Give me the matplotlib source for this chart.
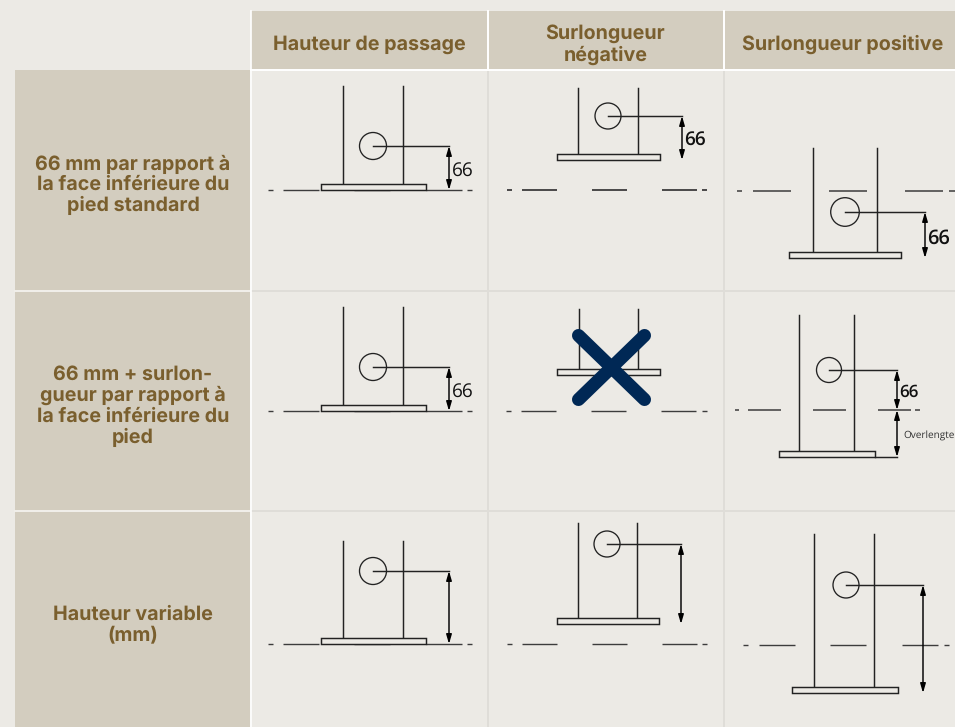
import matplotlib
matplotlib.use('Agg')
import matplotlib.pyplot as plt
from matplotlib.patches import Circle, Rectangle

plt.rcParams['text.hinting'] = 'no_hinting'
plt.rcParams['text.hinting_factor'] = 1

BG = '#ECEAE5'
HEAD = '#D3CDBF'
BROWN = '#7A5F2E'

col_titles = ['Hauteur de passage', 'Surlongueur\nnégative', 'Surlongueur positive']
row_titles = ['66 mm par rapport à\nla face inférieure du\npied standard',
	'66 mm + surlon-\ngueur par rapport à\nla face inférieure du\npied',
	'Hauteur variable\n(mm)']
col_edges = [(251, 487), (489, 723), (725, 955)]
col_text_x = [369.5, 605.5, 842.5]
row_edges = [(70, 290), (292, 510), (512, 727)]

# one entry per drawing, row by row
post_left = [343, 578, 813, 343, 579, 799, 343, 578, 814]
post_right = [403, 638, 877, 403, 638, 854, 403, 637, 874]
post_top = [86, 88, 148, 307, 309, 315, 541, 523, 534]
plate_left = [321, 557, 789, 321, 557, 779, 321, 557, 792]
plate_right = [426, 660, 901, 426, 660, 875, 426, 659, 898]
plate_top = [184, 154, 252, 405, 369, 451, 638, 618, 687]
plate_h = [6, 6, 6, 6, 6, 6, 6, 6, 6]
circle_x = [373, 608, 845, 373, None, 829, 373, 607, 846]
circle_y = [146, 116, 212, 367, None, 370, 571, 544, 585]
circle_r = [13.5, 13, 14.3, 13.5, None, 12.5, 13.5, 13, 13]
dim_x = [449, 682, 925, 449, None, 897, 449, 681, 923]
dim_label = ['66', '66', '66', '66', None, '66', None, None, None]
label_y = [171, 140, 238.5, 392, None, 392.5, None, None, None]
label_size = [14, 14, 14.5, 14, None, 12.5, None, None, None]
label_w = ['normal', 'semibold', 'semibold', 'normal', None, 'semibold', None, None, None]

datum_y = [190, 190, 191, 411, 411, 410, 644, 644, 645]
datum_lw = [1.0, 1.3, 1.1, 1.0, 1.0, 1.1, 1.0, 1.0, 1.0]
datum_segs = [
	[(268, 273), (283, 319), (354, 390), (426, 462), (467, 472)],
	[(507, 512), (522, 557), (592, 627), (662, 697), (702, 707)],
	[(737, 742), (753, 791), (829, 867), (905, 943), (949, 955)],
	[(268, 273), (283, 319), (354, 390), (426, 462), (467, 472)],
	[(506, 511), (521, 556), (591, 626), (661, 696), (702, 707)],
	[(735, 739), (748, 781), (813, 846), (878, 911), (915, 920)],
	[(268, 273), (283, 319), (354, 390), (426, 462), (467, 472)],
	[(507, 512), (522, 557), (592, 627), (662, 697), (702, 707)],
	[(743, 748), (759, 795), (830, 866), (902, 938), (944, 949)],
]

ARROW = dict(arrowstyle='<|-|>,head_length=0.55,head_width=0.16', color='black', lw=1.05,
	shrinkA=0, shrinkB=0, mutation_scale=10)

fig = plt.figure(figsize=(9.55, 7.27), dpi=100, facecolor=BG)
ax = fig.add_axes([0, 0, 1, 1])
ax.set_xlim(0, 955)
ax.set_ylim(727, 0)
ax.axis('off')

# header cells
for (x0, x1), tx, t in zip(col_edges, col_text_x, col_titles):
	ax.add_patch(Rectangle((x0, 11), x1 - x0, 58, fc=HEAD, ec='none'))
	ax.text(tx, 44.5, t, ha='center', va='center', color=BROWN, family='Inter',
		weight='bold', fontsize=14.2, linespacing=1.13)
for (y0, y1), t in zip(row_edges, row_titles):
	ax.add_patch(Rectangle((15, y0), 235, y1 - y0, fc=HEAD, ec='none'))
	ax.text(133, (y0 + y1) / 2 + 5, t, ha='center', va='center', color=BROWN, family='Inter',
		weight='bold', fontsize=14.2, linespacing=1.13)

# body grid
for x in [488, 724]:
	ax.plot([x, x], [70, 727], color='#DFDDD8', lw=1.4)
	ax.plot([x, x], [11, 69], color='white', lw=1.4)
for y in [291, 511]:
	ax.plot([251, 955], [y, y], color='#DFDDD8', lw=1.4)
	ax.plot([15, 250], [y, y], color='#F1EFEA', lw=1.4)
ax.plot([251, 955], [69.5, 69.5], color='white', lw=1.4)
ax.plot([250.5, 250.5], [11, 727], color='white', lw=1.2)

for i in range(9):
	y = datum_y[i]
	for a, b in datum_segs[i]:
		ax.plot([a, b], [y, y], color='#3c3c3c', lw=datum_lw[i], solid_capstyle='butt', zorder=2)
	ax.plot([post_left[i]] * 2, [post_top[i], plate_top[i]], color='#222222', lw=1.05, zorder=3)
	ax.plot([post_right[i]] * 2, [post_top[i], plate_top[i]], color='#222222', lw=1.05, zorder=3)
	ax.add_patch(Rectangle((plate_left[i], plate_top[i]), plate_right[i] - plate_left[i], plate_h[i],
		fc=BG, ec='#222222', lw=1.05, zorder=3))
	if circle_x[i] is None:
		continue
	cx, cy = circle_x[i], circle_y[i]
	ax.add_patch(Circle((cx, cy), circle_r[i], fill=False, ec='#222222', lw=0.95, zorder=4))
	ax.plot([cx, dim_x[i]], [cy, cy], color='#222222', lw=1.05, zorder=4)
	# dimension stops on the plate underside, or on the datum for the overlength case
	stop = plate_top[i] + plate_h[i]
	if i == 5:
		stop = datum_y[i]
	ax.annotate('', xy=(dim_x[i], stop), xytext=(dim_x[i], cy), arrowprops=ARROW, zorder=5)
	if dim_label[i]:
		ax.text(dim_x[i] + 2.5, label_y[i], dim_label[i], ha='left', va='center', family='Open Sans',
			weight=label_w[i], fontsize=label_size[i], color='#111111', zorder=5)

# overlength dimension in the middle right drawing
ax.annotate('', xy=(897, 457), xytext=(897, 410), arrowprops=ARROW)
ax.plot([875, 897], [456.5, 456.5], color='#222222', lw=1.05)
ax.text(903, 436, 'Overlengte', ha='left', va='center', family='Open Sans', fontsize=7.1, color='#333333')

# not applicable cross
ax.plot([578.5, 644.5], [335.5, 399.5], color='#002855', lw=9.4, solid_capstyle='round', zorder=6)
ax.plot([644.5, 578.5], [335.5, 399.5], color='#002855', lw=9.4, solid_capstyle='round', zorder=6)

fig.savefig('out.png', dpi=100, facecolor=BG)
